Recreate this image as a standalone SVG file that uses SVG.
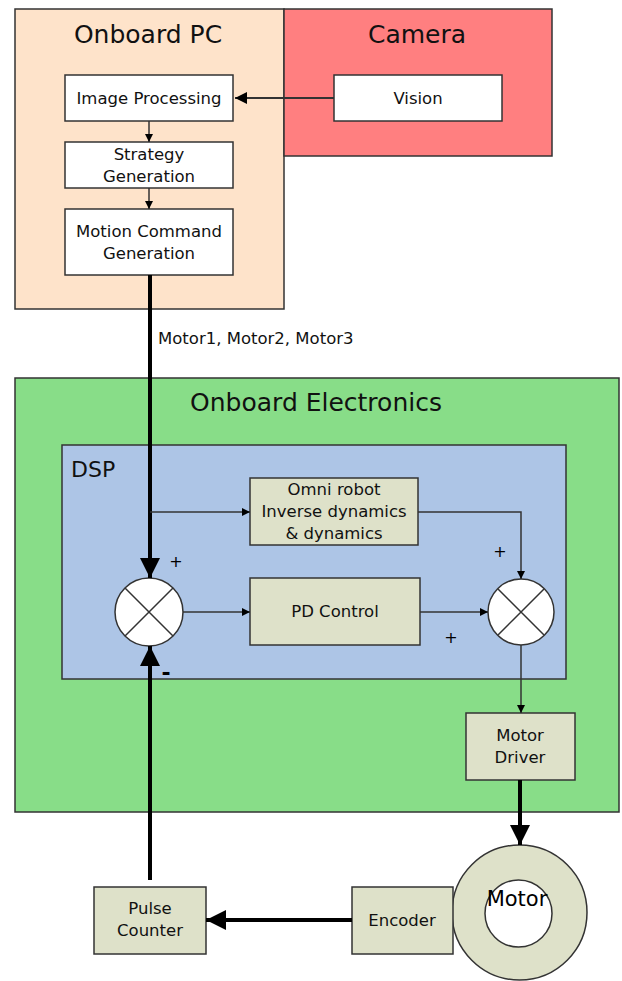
<svg xmlns="http://www.w3.org/2000/svg" width="622" height="981" viewBox="0 0 622 981">
<style>
text{font-family:"DejaVu Sans","Liberation Sans",sans-serif;fill:#111;text-anchor:middle}
.t{font-size:25px}
.b{font-size:16.5px}
.box{stroke:#333;stroke-width:1.5}
.w{fill:#fff}
.g{fill:#dee1c9}
.ln{stroke:#333;stroke-width:1.5;fill:none}
.th{stroke:#000;stroke-width:4;fill:none}
.p{font-size:16px;fill:#000}
</style>
<defs>
<marker id="a" viewBox="0 0 10 10" refX="10" refY="5" markerWidth="8" markerHeight="8" markerUnits="userSpaceOnUse" orient="auto"><path d="M0,0L10,5L0,10z" fill="#000"/></marker>
<marker id="a2" viewBox="0 0 10 10" refX="10" refY="5" markerWidth="12" markerHeight="12" markerUnits="userSpaceOnUse" orient="auto"><path d="M0,0L10,5L0,10z" fill="#000"/></marker>
<marker id="A" viewBox="0 0 10 10" refX="10" refY="5" markerWidth="5" markerHeight="5" orient="auto"><path d="M0,0L10,5L0,10z" fill="#000"/></marker>
</defs>
<g id="onboard-pc"><rect x="15" y="9" width="269" height="300" fill="#fee3ca" class="box"/><text x="148" y="43" class="t">Onboard PC</text></g>
<g id="camera"><rect x="284" y="9" width="268" height="147" fill="#ff7f80" class="box"/><text x="417" y="43" class="t">Camera</text></g>
<g id="electronics"><rect x="15" y="378" width="604" height="434" fill="#88dd88" class="box"/><text x="316" y="411" class="t">Onboard Electronics</text></g>
<g id="dsp"><rect x="62" y="445" width="504" height="234" fill="#adc5e6" class="box"/><text x="71" y="477" style="text-anchor:start;font-size:22px">DSP</text></g>
<g id="image-processing"><rect x="65" y="75" width="168" height="46" class="box w"/><text x="149" y="104" class="b">Image Processing</text></g>
<g id="vision"><rect x="334" y="75" width="168" height="46" class="box w"/><text x="418" y="104" class="b">Vision</text></g>
<g id="strategy"><rect x="65" y="142" width="168" height="46" class="box w"/><text x="149" y="160" class="b">Strategy</text><text x="149" y="182" class="b">Generation</text></g>
<g id="motion-command"><rect x="65" y="209" width="168" height="66" class="box w"/><text x="149" y="237" class="b">Motion Command</text><text x="149" y="259" class="b">Generation</text></g>
<g id="omni"><rect x="250" y="478" width="168" height="67" class="box g"/><text x="334" y="495" class="b">Omni robot</text><text x="334" y="517" class="b">Inverse dynamics</text><text x="334" y="539" class="b">&amp; dynamics</text></g>
<g id="pd-control"><rect x="250" y="578" width="170" height="67" class="box g"/><text x="335" y="617" class="b">PD Control</text></g>
<g id="sum1"><circle cx="149" cy="612" r="34" class="box w"/><path d="M125,588L173,636M173,588L125,636" class="ln"/></g>
<g id="sum2"><circle cx="521" cy="612" r="33" class="box w"/><path d="M498,589L544,635M544,589L498,635" class="ln"/></g>
<g id="motor-driver"><rect x="466" y="713" width="109" height="67" class="box g"/><text x="520" y="741" class="b">Motor</text><text x="520" y="763" class="b">Driver</text></g>
<g id="motor"><circle cx="519.5" cy="912.5" r="67.5" fill="#dee1c9" class="box"/><circle cx="518.5" cy="913.5" r="33.5" class="box w"/><text x="517" y="906" style="font-size:21px;fill:#000">Motor</text></g>
<g id="encoder"><rect x="352" y="887" width="101" height="67" class="box g"/><text x="402" y="926" class="b">Encoder</text></g>
<g id="pulse-counter"><rect x="94" y="887" width="112" height="67" class="box g"/><text x="150" y="914" class="b">Pulse</text><text x="150" y="936" class="b">Counter</text></g>
<g id="connectors">
<path d="M334,98H235" class="ln" marker-end="url(#a2)" style="stroke-width:2"/>
<path d="M149,121V142" class="ln" marker-end="url(#a)"/>
<path d="M149,188V209" class="ln" marker-end="url(#a)"/>
<path d="M150,275V578" class="th" marker-end="url(#A)"/>
<path d="M150,512H250" class="ln" marker-end="url(#a)"/>
<path d="M418,512H521V579" class="ln" marker-end="url(#a)"/>
<path d="M183,612H250" class="ln" marker-end="url(#a)"/>
<path d="M420,612H488" class="ln" marker-end="url(#a)"/>
<path d="M521,645V713" class="ln" marker-end="url(#a)"/>
<path d="M520,780V845" class="th" marker-end="url(#A)"/>
<path d="M352,920H206" class="th" marker-end="url(#A)"/>
<path d="M150,880V646" class="th" marker-end="url(#A)"/>
<text x="158" y="344" style="text-anchor:start;font-size:16.5px">Motor1, Motor2, Motor3</text>
<text x="176" y="567" class="p">+</text>
<text x="500" y="557" class="p">+</text>
<text x="451" y="643" class="p">+</text>
<text x="166" y="680" style="font-size:22px;font-weight:bold;fill:#000">-</text>
</g>
</svg>
